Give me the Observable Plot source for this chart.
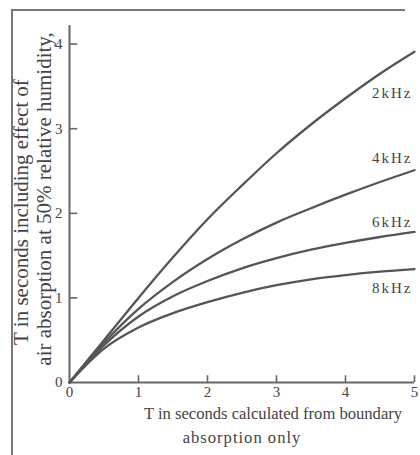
<!DOCTYPE html>
<html><head><meta charset="utf-8">
<script src="https://cdn.jsdelivr.net/npm/d3@7"></script>
<script src="https://cdn.jsdelivr.net/npm/@observablehq/plot@0.6"></script>
<style>
body{margin:0;background:#fff;}
#wrap{position:relative;width:420px;height:455px;overflow:hidden;}
#frame{position:absolute;left:11px;top:9px;width:392px;height:460px;border-top:2px solid #777;border-left:2px solid #777;pointer-events:none;}
#wrap svg{position:absolute;left:0;top:0;overflow:visible;}
</style></head><body><div id="wrap"><div id="frame"></div></div>
<script>
const tValues = [0, 0.5, 1, 1.5, 2, 2.5, 3, 3.5, 4, 4.5, 5];
const freqs = ["2kHz", "4kHz", "6kHz", "8kHz"];
const t2kHz = [0, 0.5, 1.0, 1.48, 1.93, 2.33, 2.71, 3.05, 3.36, 3.65, 3.91];
const t4kHz = [0, 0.47, 0.87, 1.19, 1.46, 1.69, 1.89, 2.06, 2.22, 2.37, 2.51];
const t6kHz = [0, 0.44, 0.78, 1.02, 1.2, 1.35, 1.47, 1.57, 1.65, 1.72, 1.78];
const t8kHz = [0, 0.4, 0.65, 0.82, 0.95, 1.06, 1.15, 1.22, 1.27, 1.31, 1.34];
const xTicks = [0, 1, 2, 3, 4, 5];
const yTicks = [0, 1, 2, 3, 4];
const xLabel1 = "T in seconds calculated from boundary";
const xLabel2 = "absorption only";
const yLabel1 = "T in seconds including effect of";
const yLabel2 = "air absorption at 50% relative humidity,";
const labelDy = [41, -12, -10, 19];

const series = [t2kHz, t4kHz, t6kHz, t8kHz];
const rows = freqs.flatMap((f, i) => series[i].map((v, j) => ({f, t: tValues[j], v})));
const ends = freqs.map((f, i) => ({f, t: tValues[tValues.length - 1], v: series[i][series[i].length - 1]}));

const ink = "#555";
const chart = Plot.plot({
  width: 420, height: 455,
  marginLeft: 69, marginRight: 6, marginTop: 25, marginBottom: 73,
  x: {domain: [0, 5]},
  y: {domain: [0, 4.22]},
  style: {fontFamily: "'Liberation Serif', 'Times New Roman', serif", fontSize: "15px", color: "#444", background: "transparent"},
  marks: [
    Plot.ruleX([0], {stroke: "#666", strokeWidth: 2}),
    Plot.ruleY([0], {stroke: "#666", strokeWidth: 2}),
    Plot.ruleY(yTicks.slice(1), {x1: 0, x2: 0.12, stroke: "#666", strokeWidth: 1.6}),
    Plot.ruleX(xTicks.slice(1), {y1: 0, y2: 0.08, stroke: "#666", strokeWidth: 1.6}),
    Plot.axisX(xTicks, {tickSize: 0, tickPadding: 4, label: null, fontSize: 15, tickFormat: d3.format("d")}),
    Plot.axisY(yTicks, {tickSize: 0, tickPadding: 7, label: null, fontSize: 15, tickFormat: d3.format("d")}),
    Plot.line(rows, {x: "t", y: "v", z: "f", curve: "monotone-x", stroke: ink, strokeWidth: 2.3}),
    ...ends.map((d, i) => Plot.text([d], {x: "t", y: "v", text: "f", textAnchor: "end", dx: -2, dy: labelDy[i], fontSize: 15, fill: "#444"})),
    Plot.text([xLabel1], {frameAnchor: "bottom", textAnchor: "middle", dx: 31, dy: 36, fontSize: 16.6, fill: "#444"}),
    Plot.text([xLabel2], {frameAnchor: "bottom", textAnchor: "middle", dx: 0, dy: 60, fontSize: 16.6, fill: "#444"}),
    Plot.text([yLabel1], {frameAnchor: "left", textAnchor: "middle", rotate: -90, dx: -48, dy: 8, fontSize: 21, fill: "#444"}),
    Plot.text([yLabel2], {frameAnchor: "left", textAnchor: "middle", rotate: -90, dx: -25, dy: -5, fontSize: 21, fill: "#444"})
  ]
});
const svg = d3.select(chart);
svg.selectAll("text").filter(function() { return /kHz/.test(this.textContent); }).attr("letter-spacing", "2px");
svg.selectAll("text").filter(function() { return this.textContent === xLabel2; }).attr("letter-spacing", "1px");
document.getElementById("wrap").appendChild(chart);
</script>
</body></html>
